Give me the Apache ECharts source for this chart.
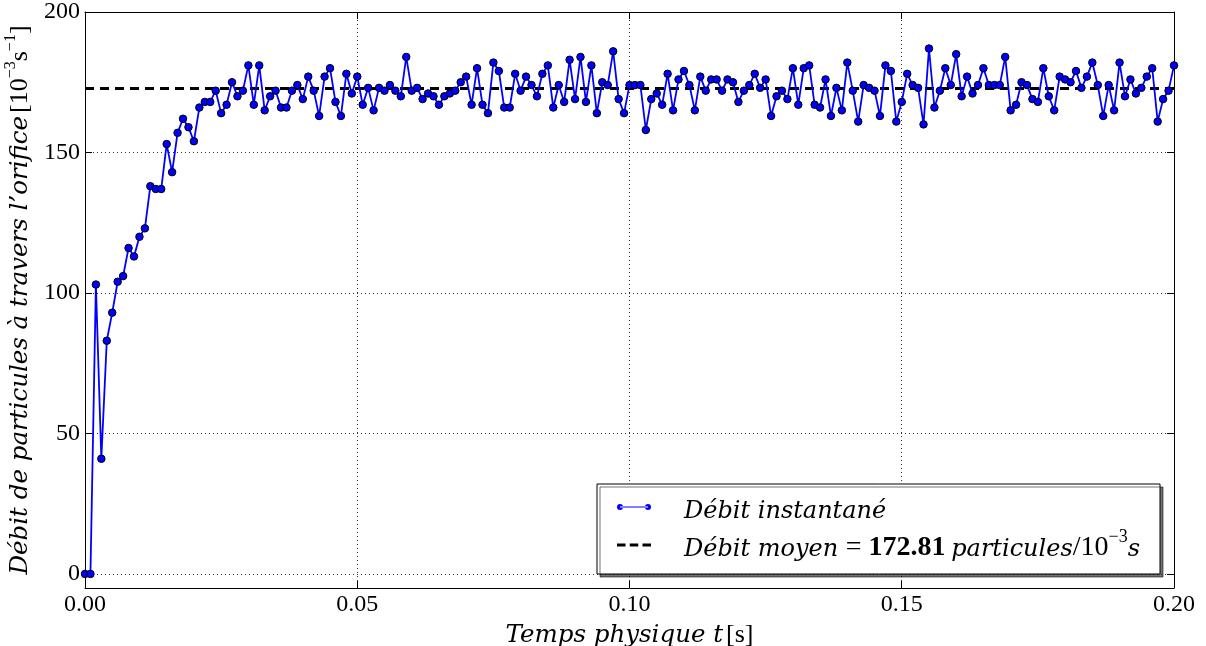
<!DOCTYPE html>
<html><head><meta charset="utf-8">
<script src="https://cdn.jsdelivr.net/npm/echarts@6/dist/echarts.min.js"></script>
<style>html,body{margin:0;padding:0;background:#fff}#c{width:1206px;height:646px}</style>
</head><body><div id="c"></div>
<script>
// ---- data ----
const timeStep = 0.001; // sampling step of the simulation (s)
const flow = [
  0, 0, 103, 41, 83, 93, 104, 106, 116, 113,
  120, 123, 138, 137, 137, 153, 143, 157, 162, 159,
  154, 166, 168, 168, 172, 164, 167, 175, 170, 172,
  181, 167, 181, 165, 170, 172, 166, 166, 172, 174,
  169, 177, 172, 163, 177, 180, 168, 163, 178, 171,
  177, 167, 173, 165, 173, 172, 174, 172, 170, 184,
  172, 173, 169, 171, 170, 167, 170, 171, 172, 175,
  177, 167, 180, 167, 164, 182, 179, 166, 166, 178,
  172, 177, 174, 170, 178, 181, 166, 174, 168, 183,
  169, 184, 168, 181, 164, 175, 174, 186, 169, 164,
  174, 174, 174, 158, 169, 171, 167, 178, 165, 176,
  179, 174, 165, 177, 172, 176, 176, 172, 176, 175,
  168, 172, 174, 178, 173, 176, 163, 170, 172, 169,
  180, 167, 180, 181, 167, 166, 176, 163, 173, 165,
  182, 172, 161, 174, 173, 172, 163, 181, 179, 161,
  168, 178, 174, 173, 160, 187, 166, 172, 180, 174,
  185, 170, 177, 171, 174, 180, 174, 174, 174, 184,
  165, 167, 175, 174, 169, 168, 180, 170, 165, 177,
  176, 175, 179, 173, 177, 182, 174, 163, 174, 165,
  182, 170, 176, 171, 173, 177, 180, 161, 169, 172,
  181
];
const meanFlow = 172.81;
const xTicks = [0, 0.05, 0.10, 0.15, 0.20];
const yTicks = [0, 50, 100, 150, 200];
const xRange = [0, 0.20];
const yRange = [-5, 200];
const seriesNames = ['Débit instantané', 'Débit moyen'];

// ---- build ----
const times = flow.map((_, i) => +(i * timeStep).toFixed(3));
const flowPoints = flow.map((v, i) => [times[i], v]);
const meanPoints = [[xRange[0], meanFlow], [xRange[1], meanFlow]];

const ROMAN = '"Liberation Serif", serif';
const ITAL = '"DejaVu Serif", serif';
const gridLine = { show: true, lineStyle: { color: '#000', width: 1, type: [1, 3], opacity: 0.8 } };
const tickIn = { show: true, inside: true, length: 7, lineStyle: { color: '#000', width: 1 } };
const frame = { show: true, onZero: false, lineStyle: { color: '#000', width: 1 } };

const chart = echarts.init(document.getElementById('c'), null, { renderer: 'canvas' });
chart.setOption({
  backgroundColor: '#fff',
  animation: false,
  textStyle: { fontFamily: ROMAN },
  grid: { left: 85, right: 32, top: 12, bottom: 58, containLabel: false, outerBoundsMode: 'none' },
  xAxis: [{
    type: 'value', min: xRange[0], max: xRange[1], position: 'bottom',
    axisLine: frame,
    axisTick: Object.assign({ customValues: xTicks }, tickIn),
    axisLabel: { customValues: xTicks, formatter: v => v.toFixed(2), color: '#000', fontSize: 24, fontFamily: ROMAN, margin: 5 },
    splitLine: gridLine,
    name: '{it|Temps physique t} {r|[s]}',
    nameLocation: 'middle', nameGap: 24,
    nameTextStyle: { rich: {
      it: { fontFamily: ITAL, fontStyle: 'italic', fontSize: 24.5, color: '#000', lineHeight: 30, verticalAlign: 'bottom' },
      r: { fontFamily: ROMAN, fontSize: 26, color: '#000', lineHeight: 30, verticalAlign: 'bottom' }
    } }
  }, {
    type: 'value', min: xRange[0], max: xRange[1], position: 'top',
    axisLine: frame,
    axisTick: Object.assign({ customValues: xTicks }, tickIn),
    axisLabel: { show: false }, splitLine: { show: false }
  }],
  yAxis: [{
    type: 'value', min: yRange[0], max: yRange[1], position: 'left',
    axisLine: frame,
    axisTick: Object.assign({ customValues: yTicks }, tickIn),
    axisLabel: { customValues: yTicks, color: '#000', fontSize: 24, fontFamily: ROMAN, margin: 5 },
    splitLine: gridLine,
    name: '{it|Débit de particules à travers l\u2019orifice} {r|[10}{sup|\u22123}{r|s}{sup|\u22121}{r|]}',
    nameLocation: 'middle', nameGap: 52,
    nameTextStyle: { rich: {
      it: { fontFamily: ITAL, fontStyle: 'italic', fontSize: 24.5, color: '#000', lineHeight: 30, verticalAlign: 'bottom' },
      r: { fontFamily: ROMAN, fontSize: 26, color: '#000', lineHeight: 30, verticalAlign: 'bottom' },
      sup: { fontFamily: ROMAN, fontSize: 16, color: '#000', lineHeight: 30, verticalAlign: 'top' }
    } }
  }, {
    type: 'value', min: yRange[0], max: yRange[1], position: 'right',
    axisLine: frame,
    axisTick: Object.assign({ customValues: yTicks }, tickIn),
    axisLabel: { show: false }, splitLine: { show: false }
  }],
  legend: {
    left: 597, top: 484, orient: 'vertical',
    backgroundColor: '#fff', borderColor: '#000', borderWidth: 1, borderRadius: 0,
    shadowColor: 'rgba(0,0,0,0.55)', shadowBlur: 0, shadowOffsetX: 3, shadowOffsetY: 3,
    padding: [16, 20, 12, 20], itemGap: 4, itemWidth: 34, itemHeight: 11,
    data: [
      { name: seriesNames[0], itemStyle: { borderWidth: 0 },
        icon: 'path://M0,6a6,6 0 1,0 12,0a6,6 0 1,0 -12,0ZM6,5H62V7H6ZM56,6a6,6 0 1,0 12,0a6,6 0 1,0 -12,0Z' },
      { name: seriesNames[1], itemStyle: { borderWidth: 0 },
        icon: 'path://M0,0H0.01V0.01H0ZM0,9.99H0.01V10H0ZM0,3.5H8V6.5H0ZM12,3.5H20V6.5H12ZM24,3.5H32V6.5H24Z' }
    ],
    formatter: name => name === seriesNames[0]
      ? '{it|' + name + '}'
      : '{it|' + name + ' }{r|= }{b|' + meanFlow.toFixed(2) + '}{r|\u2009}{it|particules}{r|/10}{sup|\u22123}{it|s}',
    textStyle: { padding: [0, 0, 0, 28], rich: {
      it: { fontFamily: ITAL, fontStyle: 'italic', fontSize: 24, color: '#000', lineHeight: 34, verticalAlign: 'bottom' },
      r: { fontFamily: ROMAN, fontSize: 28, color: '#000', lineHeight: 34, verticalAlign: 'bottom' },
      b: { fontFamily: ROMAN, fontWeight: 'bold', fontSize: 28, color: '#000', lineHeight: 34, verticalAlign: 'bottom' },
      sup: { fontFamily: ROMAN, fontSize: 18, color: '#000', lineHeight: 34, verticalAlign: 'top' }
    } }
  },
  series: [{
    name: seriesNames[0], type: 'line', xAxisIndex: 0, yAxisIndex: 0,
    data: flowPoints, showSymbol: true, symbol: 'circle', symbolSize: 7.5,
    lineStyle: { color: '#0000ff', width: 1.8 },
    itemStyle: { color: '#0000ff', borderColor: '#000', borderWidth: 1 },
    z: 3
  }, {
    name: seriesNames[1], type: 'line', xAxisIndex: 0, yAxisIndex: 0,
    data: meanPoints, showSymbol: false, symbol: 'none',
    lineStyle: { color: '#000', width: 3, type: [9, 6] },
    itemStyle: { color: '#000' },
    z: 2
  }]
});
</script></body></html>
